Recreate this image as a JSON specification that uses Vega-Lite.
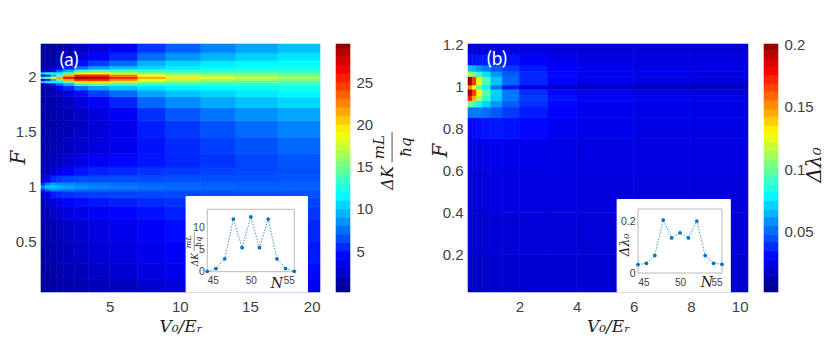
{"$schema":"https://vega.github.io/schema/vega-lite/v6.json","width":830,"height":356,"padding":0,"autosize":{"type":"none"},"background":"white","view":{"stroke":null},"config":{"view":{"stroke":null},"axis":{"grid":false,"labelFont":"Liberation Sans","labelColor":"#404040"}},
"datasets":{"a":[
{"x":0.1,"x2":0.4,"y":0.04,"y2":0.15,"v":0.6},{"x":0.4,"x2":0.8,"y":0.04,"y2":0.15,"v":0.6},{"x":0.8,"x2":1.2,"y":0.04,"y2":0.15,"v":0.8},{"x":1.2,"x2":1.7,"y":0.04,"y2":0.15,"v":0.9},{"x":1.7,"x2":2.5,"y":0.04,"y2":0.15,"v":1},{"x":2.5,"x2":3.5,"y":0.04,"y2":0.15,"v":1.2},{"x":3.5,"x2":5,"y":0.04,"y2":0.15,"v":1.5},{"x":5,"x2":7,"y":0.04,"y2":0.15,"v":1.8},{"x":7,"x2":9,"y":0.04,"y2":0.15,"v":2.2},{"x":9,"x2":11.5,"y":0.04,"y2":0.15,"v":2.6},{"x":11.5,"x2":14,"y":0.04,"y2":0.15,"v":3},{"x":14,"x2":17,"y":0.04,"y2":0.15,"v":3.2},{"x":17,"x2":20,"y":0.04,"y2":0.15,"v":3.4},
{"x":0.1,"x2":0.4,"y":0.15,"y2":0.3,"v":0.7},{"x":0.4,"x2":0.8,"y":0.15,"y2":0.3,"v":0.8},{"x":0.8,"x2":1.2,"y":0.15,"y2":0.3,"v":1},{"x":1.2,"x2":1.7,"y":0.15,"y2":0.3,"v":1.1},{"x":1.7,"x2":2.5,"y":0.15,"y2":0.3,"v":1.3},{"x":2.5,"x2":3.5,"y":0.15,"y2":0.3,"v":1.6},{"x":3.5,"x2":5,"y":0.15,"y2":0.3,"v":2},{"x":5,"x2":7,"y":0.15,"y2":0.3,"v":2.4},{"x":7,"x2":9,"y":0.15,"y2":0.3,"v":2.8},{"x":9,"x2":11.5,"y":0.15,"y2":0.3,"v":3.2},{"x":11.5,"x2":14,"y":0.15,"y2":0.3,"v":3.6},{"x":14,"x2":17,"y":0.15,"y2":0.3,"v":3.9},{"x":17,"x2":20,"y":0.15,"y2":0.3,"v":4.1},
{"x":0.1,"x2":0.4,"y":0.3,"y2":0.5,"v":0.8},{"x":0.4,"x2":0.8,"y":0.3,"y2":0.5,"v":1},{"x":0.8,"x2":1.2,"y":0.3,"y2":0.5,"v":1.2},{"x":1.2,"x2":1.7,"y":0.3,"y2":0.5,"v":1.4},{"x":1.7,"x2":2.5,"y":0.3,"y2":0.5,"v":1.6},{"x":2.5,"x2":3.5,"y":0.3,"y2":0.5,"v":2},{"x":3.5,"x2":5,"y":0.3,"y2":0.5,"v":2.4},{"x":5,"x2":7,"y":0.3,"y2":0.5,"v":2.8},{"x":7,"x2":9,"y":0.3,"y2":0.5,"v":3.2},{"x":9,"x2":11.5,"y":0.3,"y2":0.5,"v":3.6},{"x":11.5,"x2":14,"y":0.3,"y2":0.5,"v":4},{"x":14,"x2":17,"y":0.3,"y2":0.5,"v":4.3},{"x":17,"x2":20,"y":0.3,"y2":0.5,"v":4.5},
{"x":0.1,"x2":0.4,"y":0.5,"y2":0.7,"v":1},{"x":0.4,"x2":0.8,"y":0.5,"y2":0.7,"v":1.2},{"x":0.8,"x2":1.2,"y":0.5,"y2":0.7,"v":1.5},{"x":1.2,"x2":1.7,"y":0.5,"y2":0.7,"v":1.7},{"x":1.7,"x2":2.5,"y":0.5,"y2":0.7,"v":2},{"x":2.5,"x2":3.5,"y":0.5,"y2":0.7,"v":2.4},{"x":3.5,"x2":5,"y":0.5,"y2":0.7,"v":2.8},{"x":5,"x2":7,"y":0.5,"y2":0.7,"v":3.3},{"x":7,"x2":9,"y":0.5,"y2":0.7,"v":3.7},{"x":9,"x2":11.5,"y":0.5,"y2":0.7,"v":4.1},{"x":11.5,"x2":14,"y":0.5,"y2":0.7,"v":4.4},{"x":14,"x2":17,"y":0.5,"y2":0.7,"v":4.7},{"x":17,"x2":20,"y":0.5,"y2":0.7,"v":4.9},
{"x":0.1,"x2":0.4,"y":0.7,"y2":0.82,"v":1.2},{"x":0.4,"x2":0.8,"y":0.7,"y2":0.82,"v":1.6},{"x":0.8,"x2":1.2,"y":0.7,"y2":0.82,"v":2},{"x":1.2,"x2":1.7,"y":0.7,"y2":0.82,"v":2.3},{"x":1.7,"x2":2.5,"y":0.7,"y2":0.82,"v":2.7},{"x":2.5,"x2":3.5,"y":0.7,"y2":0.82,"v":3.1},{"x":3.5,"x2":5,"y":0.7,"y2":0.82,"v":3.5},{"x":5,"x2":7,"y":0.7,"y2":0.82,"v":3.9},{"x":7,"x2":9,"y":0.7,"y2":0.82,"v":4.3},{"x":9,"x2":11.5,"y":0.7,"y2":0.82,"v":4.7},{"x":11.5,"x2":14,"y":0.7,"y2":0.82,"v":5},{"x":14,"x2":17,"y":0.7,"y2":0.82,"v":5.2},{"x":17,"x2":20,"y":0.7,"y2":0.82,"v":5.4},
{"x":0.1,"x2":0.4,"y":0.82,"y2":0.9,"v":1.4},{"x":0.4,"x2":0.8,"y":0.82,"y2":0.9,"v":2},{"x":0.8,"x2":1.2,"y":0.82,"y2":0.9,"v":2.8},{"x":1.2,"x2":1.7,"y":0.82,"y2":0.9,"v":3.2},{"x":1.7,"x2":2.5,"y":0.82,"y2":0.9,"v":3.7},{"x":2.5,"x2":3.5,"y":0.82,"y2":0.9,"v":4.1},{"x":3.5,"x2":5,"y":0.82,"y2":0.9,"v":4.4},{"x":5,"x2":7,"y":0.82,"y2":0.9,"v":4.7},{"x":7,"x2":9,"y":0.82,"y2":0.9,"v":5},{"x":9,"x2":11.5,"y":0.82,"y2":0.9,"v":5.2},{"x":11.5,"x2":14,"y":0.82,"y2":0.9,"v":5.5},{"x":14,"x2":17,"y":0.82,"y2":0.9,"v":5.6},{"x":17,"x2":20,"y":0.82,"y2":0.9,"v":5.8},
{"x":0.1,"x2":0.4,"y":0.9,"y2":0.96,"v":1.8},{"x":0.4,"x2":0.8,"y":0.9,"y2":0.96,"v":3},{"x":0.8,"x2":1.2,"y":0.9,"y2":0.96,"v":4.5},{"x":1.2,"x2":1.7,"y":0.9,"y2":0.96,"v":5},{"x":1.7,"x2":2.5,"y":0.9,"y2":0.96,"v":5.2},{"x":2.5,"x2":3.5,"y":0.9,"y2":0.96,"v":5.4},{"x":3.5,"x2":5,"y":0.9,"y2":0.96,"v":5.6},{"x":5,"x2":7,"y":0.9,"y2":0.96,"v":5.7},{"x":7,"x2":9,"y":0.9,"y2":0.96,"v":5.8},{"x":9,"x2":11.5,"y":0.9,"y2":0.96,"v":5.9},{"x":11.5,"x2":14,"y":0.9,"y2":0.96,"v":6},{"x":14,"x2":17,"y":0.9,"y2":0.96,"v":6.1},{"x":17,"x2":20,"y":0.9,"y2":0.96,"v":6.2},
{"x":0.1,"x2":0.4,"y":0.96,"y2":0.985,"v":5},{"x":0.4,"x2":0.8,"y":0.96,"y2":0.985,"v":7},{"x":0.8,"x2":1.2,"y":0.96,"y2":0.985,"v":8},{"x":1.2,"x2":1.7,"y":0.96,"y2":0.985,"v":7.8},{"x":1.7,"x2":2.5,"y":0.96,"y2":0.985,"v":7.5},{"x":2.5,"x2":3.5,"y":0.96,"y2":0.985,"v":7.2},{"x":3.5,"x2":5,"y":0.96,"y2":0.985,"v":7},{"x":5,"x2":7,"y":0.96,"y2":0.985,"v":6.8},{"x":7,"x2":9,"y":0.96,"y2":0.985,"v":6.7},{"x":9,"x2":11.5,"y":0.96,"y2":0.985,"v":6.6},{"x":11.5,"x2":14,"y":0.96,"y2":0.985,"v":6.5},{"x":14,"x2":17,"y":0.96,"y2":0.985,"v":6.5},{"x":17,"x2":20,"y":0.96,"y2":0.985,"v":6.5},
{"x":0.1,"x2":0.4,"y":0.985,"y2":1.015,"v":8},{"x":0.4,"x2":0.8,"y":0.985,"y2":1.015,"v":9.5},{"x":0.8,"x2":1.2,"y":0.985,"y2":1.015,"v":9.5},{"x":1.2,"x2":1.7,"y":0.985,"y2":1.015,"v":9},{"x":1.7,"x2":2.5,"y":0.985,"y2":1.015,"v":8.5},{"x":2.5,"x2":3.5,"y":0.985,"y2":1.015,"v":8},{"x":3.5,"x2":5,"y":0.985,"y2":1.015,"v":7.6},{"x":5,"x2":7,"y":0.985,"y2":1.015,"v":7.3},{"x":7,"x2":9,"y":0.985,"y2":1.015,"v":7},{"x":9,"x2":11.5,"y":0.985,"y2":1.015,"v":6.8},{"x":11.5,"x2":14,"y":0.985,"y2":1.015,"v":6.7},{"x":14,"x2":17,"y":0.985,"y2":1.015,"v":6.6},{"x":17,"x2":20,"y":0.985,"y2":1.015,"v":6.6},
{"x":0.1,"x2":0.4,"y":1.015,"y2":1.04,"v":5},{"x":0.4,"x2":0.8,"y":1.015,"y2":1.04,"v":7.5},{"x":0.8,"x2":1.2,"y":1.015,"y2":1.04,"v":8.5},{"x":1.2,"x2":1.7,"y":1.015,"y2":1.04,"v":8},{"x":1.7,"x2":2.5,"y":1.015,"y2":1.04,"v":7.8},{"x":2.5,"x2":3.5,"y":1.015,"y2":1.04,"v":7.4},{"x":3.5,"x2":5,"y":1.015,"y2":1.04,"v":7.2},{"x":5,"x2":7,"y":1.015,"y2":1.04,"v":7},{"x":7,"x2":9,"y":1.015,"y2":1.04,"v":6.8},{"x":9,"x2":11.5,"y":1.015,"y2":1.04,"v":6.7},{"x":11.5,"x2":14,"y":1.015,"y2":1.04,"v":6.6},{"x":14,"x2":17,"y":1.015,"y2":1.04,"v":6.5},{"x":17,"x2":20,"y":1.015,"y2":1.04,"v":6.5},
{"x":0.1,"x2":0.4,"y":1.04,"y2":1.1,"v":1.8},{"x":0.4,"x2":0.8,"y":1.04,"y2":1.1,"v":3.2},{"x":0.8,"x2":1.2,"y":1.04,"y2":1.1,"v":5},{"x":1.2,"x2":1.7,"y":1.04,"y2":1.1,"v":5.5},{"x":1.7,"x2":2.5,"y":1.04,"y2":1.1,"v":5.8},{"x":2.5,"x2":3.5,"y":1.04,"y2":1.1,"v":6},{"x":3.5,"x2":5,"y":1.04,"y2":1.1,"v":6},{"x":5,"x2":7,"y":1.04,"y2":1.1,"v":6},{"x":7,"x2":9,"y":1.04,"y2":1.1,"v":6},{"x":9,"x2":11.5,"y":1.04,"y2":1.1,"v":6.1},{"x":11.5,"x2":14,"y":1.04,"y2":1.1,"v":6.2},{"x":14,"x2":17,"y":1.04,"y2":1.1,"v":6.2},{"x":17,"x2":20,"y":1.04,"y2":1.1,"v":6.3},
{"x":0.1,"x2":0.4,"y":1.1,"y2":1.18,"v":1.3},{"x":0.4,"x2":0.8,"y":1.1,"y2":1.18,"v":1.8},{"x":0.8,"x2":1.2,"y":1.1,"y2":1.18,"v":2.6},{"x":1.2,"x2":1.7,"y":1.1,"y2":1.18,"v":3.2},{"x":1.7,"x2":2.5,"y":1.1,"y2":1.18,"v":3.8},{"x":2.5,"x2":3.5,"y":1.1,"y2":1.18,"v":4.4},{"x":3.5,"x2":5,"y":1.1,"y2":1.18,"v":4.8},{"x":5,"x2":7,"y":1.1,"y2":1.18,"v":5},{"x":7,"x2":9,"y":1.1,"y2":1.18,"v":5.3},{"x":9,"x2":11.5,"y":1.1,"y2":1.18,"v":5.5},{"x":11.5,"x2":14,"y":1.1,"y2":1.18,"v":5.7},{"x":14,"x2":17,"y":1.1,"y2":1.18,"v":5.9},{"x":17,"x2":20,"y":1.1,"y2":1.18,"v":6.1},
{"x":0.1,"x2":0.4,"y":1.18,"y2":1.3,"v":1.1},{"x":0.4,"x2":0.8,"y":1.18,"y2":1.3,"v":1.3},{"x":0.8,"x2":1.2,"y":1.18,"y2":1.3,"v":1.6},{"x":1.2,"x2":1.7,"y":1.18,"y2":1.3,"v":1.9},{"x":1.7,"x2":2.5,"y":1.18,"y2":1.3,"v":2.4},{"x":2.5,"x2":3.5,"y":1.18,"y2":1.3,"v":2.9},{"x":3.5,"x2":5,"y":1.18,"y2":1.3,"v":3.4},{"x":5,"x2":7,"y":1.18,"y2":1.3,"v":3.9},{"x":7,"x2":9,"y":1.18,"y2":1.3,"v":4.4},{"x":9,"x2":11.5,"y":1.18,"y2":1.3,"v":4.9},{"x":11.5,"x2":14,"y":1.18,"y2":1.3,"v":5.3},{"x":14,"x2":17,"y":1.18,"y2":1.3,"v":5.8},{"x":17,"x2":20,"y":1.18,"y2":1.3,"v":6.3},
{"x":0.1,"x2":0.4,"y":1.3,"y2":1.45,"v":1},{"x":0.4,"x2":0.8,"y":1.3,"y2":1.45,"v":1.1},{"x":0.8,"x2":1.2,"y":1.3,"y2":1.45,"v":1.3},{"x":1.2,"x2":1.7,"y":1.3,"y2":1.45,"v":1.5},{"x":1.7,"x2":2.5,"y":1.3,"y2":1.45,"v":1.8},{"x":2.5,"x2":3.5,"y":1.3,"y2":1.45,"v":2.2},{"x":3.5,"x2":5,"y":1.3,"y2":1.45,"v":2.7},{"x":5,"x2":7,"y":1.3,"y2":1.45,"v":3.3},{"x":7,"x2":9,"y":1.3,"y2":1.45,"v":4.3},{"x":9,"x2":11.5,"y":1.3,"y2":1.45,"v":5},{"x":11.5,"x2":14,"y":1.3,"y2":1.45,"v":5.6},{"x":14,"x2":17,"y":1.3,"y2":1.45,"v":6.2},{"x":17,"x2":20,"y":1.3,"y2":1.45,"v":6.8},
{"x":0.1,"x2":0.4,"y":1.45,"y2":1.6,"v":0.9},{"x":0.4,"x2":0.8,"y":1.45,"y2":1.6,"v":1},{"x":0.8,"x2":1.2,"y":1.45,"y2":1.6,"v":1.2},{"x":1.2,"x2":1.7,"y":1.45,"y2":1.6,"v":1.4},{"x":1.7,"x2":2.5,"y":1.45,"y2":1.6,"v":1.6},{"x":2.5,"x2":3.5,"y":1.45,"y2":1.6,"v":2},{"x":3.5,"x2":5,"y":1.45,"y2":1.6,"v":2.5},{"x":5,"x2":7,"y":1.45,"y2":1.6,"v":3.2},{"x":7,"x2":9,"y":1.45,"y2":1.6,"v":4.6},{"x":9,"x2":11.5,"y":1.45,"y2":1.6,"v":5.4},{"x":11.5,"x2":14,"y":1.45,"y2":1.6,"v":6.2},{"x":14,"x2":17,"y":1.45,"y2":1.6,"v":6.9},{"x":17,"x2":20,"y":1.45,"y2":1.6,"v":7.6},
{"x":0.1,"x2":0.4,"y":1.6,"y2":1.72,"v":0.8},{"x":0.4,"x2":0.8,"y":1.6,"y2":1.72,"v":1},{"x":0.8,"x2":1.2,"y":1.6,"y2":1.72,"v":1.1},{"x":1.2,"x2":1.7,"y":1.6,"y2":1.72,"v":1.3},{"x":1.7,"x2":2.5,"y":1.6,"y2":1.72,"v":1.6},{"x":2.5,"x2":3.5,"y":1.6,"y2":1.72,"v":2},{"x":3.5,"x2":5,"y":1.6,"y2":1.72,"v":2.7},{"x":5,"x2":7,"y":1.6,"y2":1.72,"v":3.6},{"x":7,"x2":9,"y":1.6,"y2":1.72,"v":5.2},{"x":9,"x2":11.5,"y":1.6,"y2":1.72,"v":6.3},{"x":11.5,"x2":14,"y":1.6,"y2":1.72,"v":7.2},{"x":14,"x2":17,"y":1.6,"y2":1.72,"v":8},{"x":17,"x2":20,"y":1.6,"y2":1.72,"v":8.6},
{"x":0.1,"x2":0.4,"y":1.72,"y2":1.82,"v":0.8},{"x":0.4,"x2":0.8,"y":1.72,"y2":1.82,"v":1},{"x":0.8,"x2":1.2,"y":1.72,"y2":1.82,"v":1.1},{"x":1.2,"x2":1.7,"y":1.72,"y2":1.82,"v":1.4},{"x":1.7,"x2":2.5,"y":1.72,"y2":1.82,"v":1.8},{"x":2.5,"x2":3.5,"y":1.72,"y2":1.82,"v":2.6},{"x":3.5,"x2":5,"y":1.72,"y2":1.82,"v":3.6},{"x":5,"x2":7,"y":1.72,"y2":1.82,"v":4.8},{"x":7,"x2":9,"y":1.72,"y2":1.82,"v":6.8},{"x":9,"x2":11.5,"y":1.72,"y2":1.82,"v":7.9},{"x":11.5,"x2":14,"y":1.72,"y2":1.82,"v":8.7},{"x":14,"x2":17,"y":1.72,"y2":1.82,"v":9.4},{"x":17,"x2":20,"y":1.72,"y2":1.82,"v":10},
{"x":0.1,"x2":0.4,"y":1.82,"y2":1.88,"v":0.8},{"x":0.4,"x2":0.8,"y":1.82,"y2":1.88,"v":1},{"x":0.8,"x2":1.2,"y":1.82,"y2":1.88,"v":1.2},{"x":1.2,"x2":1.7,"y":1.82,"y2":1.88,"v":1.8},{"x":1.7,"x2":2.5,"y":1.82,"y2":1.88,"v":2.8},{"x":2.5,"x2":3.5,"y":1.82,"y2":1.88,"v":4.2},{"x":3.5,"x2":5,"y":1.82,"y2":1.88,"v":5.6},{"x":5,"x2":7,"y":1.82,"y2":1.88,"v":6.9},{"x":7,"x2":9,"y":1.82,"y2":1.88,"v":8.6},{"x":9,"x2":11.5,"y":1.82,"y2":1.88,"v":9.5},{"x":11.5,"x2":14,"y":1.82,"y2":1.88,"v":10},{"x":14,"x2":17,"y":1.82,"y2":1.88,"v":10.6},{"x":17,"x2":20,"y":1.82,"y2":1.88,"v":11},
{"x":0.1,"x2":0.4,"y":1.88,"y2":1.92,"v":0.9},{"x":0.4,"x2":0.8,"y":1.88,"y2":1.92,"v":1.2},{"x":0.8,"x2":1.2,"y":1.88,"y2":1.92,"v":2},{"x":1.2,"x2":1.7,"y":1.88,"y2":1.92,"v":3.2},{"x":1.7,"x2":2.5,"y":1.88,"y2":1.92,"v":5},{"x":2.5,"x2":3.5,"y":1.88,"y2":1.92,"v":7},{"x":3.5,"x2":5,"y":1.88,"y2":1.92,"v":8.5},{"x":5,"x2":7,"y":1.88,"y2":1.92,"v":9.5},{"x":7,"x2":9,"y":1.88,"y2":1.92,"v":10.2},{"x":9,"x2":11.5,"y":1.88,"y2":1.92,"v":10.8},{"x":11.5,"x2":14,"y":1.88,"y2":1.92,"v":11.2},{"x":14,"x2":17,"y":1.88,"y2":1.92,"v":11.6},{"x":17,"x2":20,"y":1.88,"y2":1.92,"v":11.8},
{"x":0.1,"x2":0.4,"y":1.92,"y2":1.945,"v":1.2},{"x":0.4,"x2":0.8,"y":1.92,"y2":1.945,"v":2},{"x":0.8,"x2":1.2,"y":1.92,"y2":1.945,"v":4},{"x":1.2,"x2":1.7,"y":1.92,"y2":1.945,"v":6.5},{"x":1.7,"x2":2.5,"y":1.92,"y2":1.945,"v":9},{"x":2.5,"x2":3.5,"y":1.92,"y2":1.945,"v":12.5},{"x":3.5,"x2":5,"y":1.92,"y2":1.945,"v":13.5},{"x":5,"x2":7,"y":1.92,"y2":1.945,"v":13},{"x":7,"x2":9,"y":1.92,"y2":1.945,"v":12.5},{"x":9,"x2":11.5,"y":1.92,"y2":1.945,"v":12.5},{"x":11.5,"x2":14,"y":1.92,"y2":1.945,"v":12.5},{"x":14,"x2":17,"y":1.92,"y2":1.945,"v":12.5},{"x":17,"x2":20,"y":1.92,"y2":1.945,"v":12.5},
{"x":0.1,"x2":0.4,"y":1.945,"y2":1.965,"v":10},{"x":0.4,"x2":0.8,"y":1.945,"y2":1.965,"v":12},{"x":0.8,"x2":1.2,"y":1.945,"y2":1.965,"v":11},{"x":1.2,"x2":1.7,"y":1.945,"y2":1.965,"v":11},{"x":1.7,"x2":2.5,"y":1.945,"y2":1.965,"v":14},{"x":2.5,"x2":3.5,"y":1.945,"y2":1.965,"v":19},{"x":3.5,"x2":5,"y":1.945,"y2":1.965,"v":19},{"x":5,"x2":7,"y":1.945,"y2":1.965,"v":17},{"x":7,"x2":9,"y":1.945,"y2":1.965,"v":15},{"x":9,"x2":11.5,"y":1.945,"y2":1.965,"v":14.5},{"x":11.5,"x2":14,"y":1.945,"y2":1.965,"v":14},{"x":14,"x2":17,"y":1.945,"y2":1.965,"v":14},{"x":17,"x2":20,"y":1.945,"y2":1.965,"v":13.5},
{"x":0.1,"x2":0.4,"y":1.965,"y2":1.985,"v":3},{"x":0.4,"x2":0.8,"y":1.965,"y2":1.985,"v":5},{"x":0.8,"x2":1.2,"y":1.965,"y2":1.985,"v":9},{"x":1.2,"x2":1.7,"y":1.965,"y2":1.985,"v":14},{"x":1.7,"x2":2.5,"y":1.965,"y2":1.985,"v":21},{"x":2.5,"x2":3.5,"y":1.965,"y2":1.985,"v":25},{"x":3.5,"x2":5,"y":1.965,"y2":1.985,"v":25},{"x":5,"x2":7,"y":1.965,"y2":1.985,"v":22},{"x":7,"x2":9,"y":1.965,"y2":1.985,"v":18.5},{"x":9,"x2":11.5,"y":1.965,"y2":1.985,"v":16.5},{"x":11.5,"x2":14,"y":1.965,"y2":1.985,"v":15.5},{"x":14,"x2":17,"y":1.965,"y2":1.985,"v":15},{"x":17,"x2":20,"y":1.965,"y2":1.985,"v":14.5},
{"x":0.1,"x2":0.4,"y":1.985,"y2":2.005,"v":12},{"x":0.4,"x2":0.8,"y":1.985,"y2":2.005,"v":15},{"x":0.8,"x2":1.2,"y":1.985,"y2":2.005,"v":17},{"x":1.2,"x2":1.7,"y":1.985,"y2":2.005,"v":21},{"x":1.7,"x2":2.5,"y":1.985,"y2":2.005,"v":26},{"x":2.5,"x2":3.5,"y":1.985,"y2":2.005,"v":29},{"x":3.5,"x2":5,"y":1.985,"y2":2.005,"v":28},{"x":5,"x2":7,"y":1.985,"y2":2.005,"v":25},{"x":7,"x2":9,"y":1.985,"y2":2.005,"v":21},{"x":9,"x2":11.5,"y":1.985,"y2":2.005,"v":19},{"x":11.5,"x2":14,"y":1.985,"y2":2.005,"v":18},{"x":14,"x2":17,"y":1.985,"y2":2.005,"v":17},{"x":17,"x2":20,"y":1.985,"y2":2.005,"v":16},
{"x":0.1,"x2":0.4,"y":2.005,"y2":2.025,"v":3},{"x":0.4,"x2":0.8,"y":2.005,"y2":2.025,"v":5},{"x":0.8,"x2":1.2,"y":2.005,"y2":2.025,"v":9},{"x":1.2,"x2":1.7,"y":2.005,"y2":2.025,"v":14},{"x":1.7,"x2":2.5,"y":2.005,"y2":2.025,"v":21},{"x":2.5,"x2":3.5,"y":2.005,"y2":2.025,"v":25},{"x":3.5,"x2":5,"y":2.005,"y2":2.025,"v":25},{"x":5,"x2":7,"y":2.005,"y2":2.025,"v":22},{"x":7,"x2":9,"y":2.005,"y2":2.025,"v":18.5},{"x":9,"x2":11.5,"y":2.005,"y2":2.025,"v":16.5},{"x":11.5,"x2":14,"y":2.005,"y2":2.025,"v":15.5},{"x":14,"x2":17,"y":2.005,"y2":2.025,"v":15},{"x":17,"x2":20,"y":2.005,"y2":2.025,"v":14.5},
{"x":0.1,"x2":0.4,"y":2.025,"y2":2.045,"v":10},{"x":0.4,"x2":0.8,"y":2.025,"y2":2.045,"v":12},{"x":0.8,"x2":1.2,"y":2.025,"y2":2.045,"v":11},{"x":1.2,"x2":1.7,"y":2.025,"y2":2.045,"v":11},{"x":1.7,"x2":2.5,"y":2.025,"y2":2.045,"v":14},{"x":2.5,"x2":3.5,"y":2.025,"y2":2.045,"v":19},{"x":3.5,"x2":5,"y":2.025,"y2":2.045,"v":19},{"x":5,"x2":7,"y":2.025,"y2":2.045,"v":17},{"x":7,"x2":9,"y":2.025,"y2":2.045,"v":15},{"x":9,"x2":11.5,"y":2.025,"y2":2.045,"v":14.5},{"x":11.5,"x2":14,"y":2.025,"y2":2.045,"v":14},{"x":14,"x2":17,"y":2.025,"y2":2.045,"v":14},{"x":17,"x2":20,"y":2.025,"y2":2.045,"v":13.5},
{"x":0.1,"x2":0.4,"y":2.045,"y2":2.07,"v":1.2},{"x":0.4,"x2":0.8,"y":2.045,"y2":2.07,"v":2},{"x":0.8,"x2":1.2,"y":2.045,"y2":2.07,"v":4},{"x":1.2,"x2":1.7,"y":2.045,"y2":2.07,"v":6.5},{"x":1.7,"x2":2.5,"y":2.045,"y2":2.07,"v":9},{"x":2.5,"x2":3.5,"y":2.045,"y2":2.07,"v":12.5},{"x":3.5,"x2":5,"y":2.045,"y2":2.07,"v":13.5},{"x":5,"x2":7,"y":2.045,"y2":2.07,"v":13},{"x":7,"x2":9,"y":2.045,"y2":2.07,"v":12.5},{"x":9,"x2":11.5,"y":2.045,"y2":2.07,"v":12.5},{"x":11.5,"x2":14,"y":2.045,"y2":2.07,"v":12.5},{"x":14,"x2":17,"y":2.045,"y2":2.07,"v":12.5},{"x":17,"x2":20,"y":2.045,"y2":2.07,"v":12.5},
{"x":0.1,"x2":0.4,"y":2.07,"y2":2.1,"v":0.9},{"x":0.4,"x2":0.8,"y":2.07,"y2":2.1,"v":1.2},{"x":0.8,"x2":1.2,"y":2.07,"y2":2.1,"v":2},{"x":1.2,"x2":1.7,"y":2.07,"y2":2.1,"v":3.2},{"x":1.7,"x2":2.5,"y":2.07,"y2":2.1,"v":5},{"x":2.5,"x2":3.5,"y":2.07,"y2":2.1,"v":7},{"x":3.5,"x2":5,"y":2.07,"y2":2.1,"v":8.5},{"x":5,"x2":7,"y":2.07,"y2":2.1,"v":9.5},{"x":7,"x2":9,"y":2.07,"y2":2.1,"v":10.2},{"x":9,"x2":11.5,"y":2.07,"y2":2.1,"v":10.8},{"x":11.5,"x2":14,"y":2.07,"y2":2.1,"v":11.2},{"x":14,"x2":17,"y":2.07,"y2":2.1,"v":11.6},{"x":17,"x2":20,"y":2.07,"y2":2.1,"v":11.8},
{"x":0.1,"x2":0.4,"y":2.1,"y2":2.15,"v":0.8},{"x":0.4,"x2":0.8,"y":2.1,"y2":2.15,"v":1},{"x":0.8,"x2":1.2,"y":2.1,"y2":2.15,"v":1.2},{"x":1.2,"x2":1.7,"y":2.1,"y2":2.15,"v":1.8},{"x":1.7,"x2":2.5,"y":2.1,"y2":2.15,"v":2.8},{"x":2.5,"x2":3.5,"y":2.1,"y2":2.15,"v":4.2},{"x":3.5,"x2":5,"y":2.1,"y2":2.15,"v":5.6},{"x":5,"x2":7,"y":2.1,"y2":2.15,"v":6.9},{"x":7,"x2":9,"y":2.1,"y2":2.15,"v":9},{"x":9,"x2":11.5,"y":2.1,"y2":2.15,"v":10},{"x":11.5,"x2":14,"y":2.1,"y2":2.15,"v":10.6},{"x":14,"x2":17,"y":2.1,"y2":2.15,"v":11},{"x":17,"x2":20,"y":2.1,"y2":2.15,"v":11.2},
{"x":0.1,"x2":0.4,"y":2.15,"y2":2.22,"v":0.7},{"x":0.4,"x2":0.8,"y":2.15,"y2":2.22,"v":0.8},{"x":0.8,"x2":1.2,"y":2.15,"y2":2.22,"v":1},{"x":1.2,"x2":1.7,"y":2.15,"y2":2.22,"v":1.4},{"x":1.7,"x2":2.5,"y":2.15,"y2":2.22,"v":1.9},{"x":2.5,"x2":3.5,"y":2.15,"y2":2.22,"v":2.8},{"x":3.5,"x2":5,"y":2.15,"y2":2.22,"v":3.8},{"x":5,"x2":7,"y":2.15,"y2":2.22,"v":5},{"x":7,"x2":9,"y":2.15,"y2":2.22,"v":7},{"x":9,"x2":11.5,"y":2.15,"y2":2.22,"v":8.2},{"x":11.5,"x2":14,"y":2.15,"y2":2.22,"v":9},{"x":14,"x2":17,"y":2.15,"y2":2.22,"v":9.8},{"x":17,"x2":20,"y":2.15,"y2":2.22,"v":10.4},
{"x":0.1,"x2":0.4,"y":2.22,"y2":2.3,"v":0.6},{"x":0.4,"x2":0.8,"y":2.22,"y2":2.3,"v":0.7},{"x":0.8,"x2":1.2,"y":2.22,"y2":2.3,"v":0.8},{"x":1.2,"x2":1.7,"y":2.22,"y2":2.3,"v":1},{"x":1.7,"x2":2.5,"y":2.22,"y2":2.3,"v":1.3},{"x":2.5,"x2":3.5,"y":2.22,"y2":2.3,"v":1.8},{"x":3.5,"x2":5,"y":2.22,"y2":2.3,"v":2.6},{"x":5,"x2":7,"y":2.22,"y2":2.3,"v":3.6},{"x":7,"x2":9,"y":2.22,"y2":2.3,"v":5.4},{"x":9,"x2":11.5,"y":2.22,"y2":2.3,"v":6.6},{"x":11.5,"x2":14,"y":2.22,"y2":2.3,"v":7.6},{"x":14,"x2":17,"y":2.22,"y2":2.3,"v":8.6},{"x":17,"x2":20,"y":2.22,"y2":2.3,"v":9.4}
],"b":[
{"x":0.2,"x2":0.35,"y":0.02,"y2":0.2,"v":0.014},{"x":0.35,"x2":0.5,"y":0.02,"y2":0.2,"v":0.014},{"x":0.5,"x2":0.7,"y":0.02,"y2":0.2,"v":0.015},{"x":0.7,"x2":1,"y":0.02,"y2":0.2,"v":0.016},{"x":1,"x2":1.4,"y":0.02,"y2":0.2,"v":0.016},{"x":1.4,"x2":2,"y":0.02,"y2":0.2,"v":0.016},{"x":2,"x2":3,"y":0.02,"y2":0.2,"v":0.017},{"x":3,"x2":4,"y":0.02,"y2":0.2,"v":0.017},{"x":4,"x2":6,"y":0.02,"y2":0.2,"v":0.017},{"x":6,"x2":8,"y":0.02,"y2":0.2,"v":0.017},{"x":8,"x2":10,"y":0.02,"y2":0.2,"v":0.016},
{"x":0.2,"x2":0.35,"y":0.2,"y2":0.4,"v":0.016},{"x":0.35,"x2":0.5,"y":0.2,"y2":0.4,"v":0.016},{"x":0.5,"x2":0.7,"y":0.2,"y2":0.4,"v":0.017},{"x":0.7,"x2":1,"y":0.2,"y2":0.4,"v":0.017},{"x":1,"x2":1.4,"y":0.2,"y2":0.4,"v":0.018},{"x":1.4,"x2":2,"y":0.2,"y2":0.4,"v":0.018},{"x":2,"x2":3,"y":0.2,"y2":0.4,"v":0.018},{"x":3,"x2":4,"y":0.2,"y2":0.4,"v":0.018},{"x":4,"x2":6,"y":0.2,"y2":0.4,"v":0.018},{"x":6,"x2":8,"y":0.2,"y2":0.4,"v":0.018},{"x":8,"x2":10,"y":0.2,"y2":0.4,"v":0.018},
{"x":0.2,"x2":0.35,"y":0.4,"y2":0.6,"v":0.018},{"x":0.35,"x2":0.5,"y":0.4,"y2":0.6,"v":0.018},{"x":0.5,"x2":0.7,"y":0.4,"y2":0.6,"v":0.018},{"x":0.7,"x2":1,"y":0.4,"y2":0.6,"v":0.019},{"x":1,"x2":1.4,"y":0.4,"y2":0.6,"v":0.02},{"x":1.4,"x2":2,"y":0.4,"y2":0.6,"v":0.02},{"x":2,"x2":3,"y":0.4,"y2":0.6,"v":0.02},{"x":3,"x2":4,"y":0.4,"y2":0.6,"v":0.02},{"x":4,"x2":6,"y":0.4,"y2":0.6,"v":0.019},{"x":6,"x2":8,"y":0.4,"y2":0.6,"v":0.019},{"x":8,"x2":10,"y":0.4,"y2":0.6,"v":0.019},
{"x":0.2,"x2":0.35,"y":0.6,"y2":0.75,"v":0.02},{"x":0.35,"x2":0.5,"y":0.6,"y2":0.75,"v":0.02},{"x":0.5,"x2":0.7,"y":0.6,"y2":0.75,"v":0.021},{"x":0.7,"x2":1,"y":0.6,"y2":0.75,"v":0.022},{"x":1,"x2":1.4,"y":0.6,"y2":0.75,"v":0.023},{"x":1.4,"x2":2,"y":0.6,"y2":0.75,"v":0.023},{"x":2,"x2":3,"y":0.6,"y2":0.75,"v":0.022},{"x":3,"x2":4,"y":0.6,"y2":0.75,"v":0.021},{"x":4,"x2":6,"y":0.6,"y2":0.75,"v":0.02},{"x":6,"x2":8,"y":0.6,"y2":0.75,"v":0.02},{"x":8,"x2":10,"y":0.6,"y2":0.75,"v":0.02},
{"x":0.2,"x2":0.35,"y":0.75,"y2":0.85,"v":0.027},{"x":0.35,"x2":0.5,"y":0.75,"y2":0.85,"v":0.028},{"x":0.5,"x2":0.7,"y":0.75,"y2":0.85,"v":0.029},{"x":0.7,"x2":1,"y":0.75,"y2":0.85,"v":0.03},{"x":1,"x2":1.4,"y":0.75,"y2":0.85,"v":0.031},{"x":1.4,"x2":2,"y":0.75,"y2":0.85,"v":0.03},{"x":2,"x2":3,"y":0.75,"y2":0.85,"v":0.028},{"x":3,"x2":4,"y":0.75,"y2":0.85,"v":0.024},{"x":4,"x2":6,"y":0.75,"y2":0.85,"v":0.022},{"x":6,"x2":8,"y":0.75,"y2":0.85,"v":0.021},{"x":8,"x2":10,"y":0.75,"y2":0.85,"v":0.021},
{"x":0.2,"x2":0.35,"y":0.85,"y2":0.9,"v":0.05},{"x":0.35,"x2":0.5,"y":0.85,"y2":0.9,"v":0.05},{"x":0.5,"x2":0.7,"y":0.85,"y2":0.9,"v":0.05},{"x":0.7,"x2":1,"y":0.85,"y2":0.9,"v":0.048},{"x":1,"x2":1.4,"y":0.85,"y2":0.9,"v":0.044},{"x":1.4,"x2":2,"y":0.85,"y2":0.9,"v":0.038},{"x":2,"x2":3,"y":0.85,"y2":0.9,"v":0.032},{"x":3,"x2":4,"y":0.85,"y2":0.9,"v":0.026},{"x":4,"x2":6,"y":0.85,"y2":0.9,"v":0.023},{"x":6,"x2":8,"y":0.85,"y2":0.9,"v":0.022},{"x":8,"x2":10,"y":0.85,"y2":0.9,"v":0.021},
{"x":0.2,"x2":0.35,"y":0.9,"y2":0.93,"v":0.1},{"x":0.35,"x2":0.5,"y":0.9,"y2":0.93,"v":0.09},{"x":0.5,"x2":0.7,"y":0.9,"y2":0.93,"v":0.08},{"x":0.7,"x2":1,"y":0.9,"y2":0.93,"v":0.068},{"x":1,"x2":1.4,"y":0.9,"y2":0.93,"v":0.056},{"x":1.4,"x2":2,"y":0.9,"y2":0.93,"v":0.045},{"x":2,"x2":3,"y":0.9,"y2":0.93,"v":0.036},{"x":3,"x2":4,"y":0.9,"y2":0.93,"v":0.028},{"x":4,"x2":6,"y":0.9,"y2":0.93,"v":0.024},{"x":6,"x2":8,"y":0.9,"y2":0.93,"v":0.022},{"x":8,"x2":10,"y":0.9,"y2":0.93,"v":0.021},
{"x":0.2,"x2":0.35,"y":0.93,"y2":0.955,"v":0.17},{"x":0.35,"x2":0.5,"y":0.93,"y2":0.955,"v":0.14},{"x":0.5,"x2":0.7,"y":0.93,"y2":0.955,"v":0.11},{"x":0.7,"x2":1,"y":0.93,"y2":0.955,"v":0.085},{"x":1,"x2":1.4,"y":0.93,"y2":0.955,"v":0.066},{"x":1.4,"x2":2,"y":0.93,"y2":0.955,"v":0.05},{"x":2,"x2":3,"y":0.93,"y2":0.955,"v":0.038},{"x":3,"x2":4,"y":0.93,"y2":0.955,"v":0.03},{"x":4,"x2":6,"y":0.93,"y2":0.955,"v":0.025},{"x":6,"x2":8,"y":0.93,"y2":0.955,"v":0.023},{"x":8,"x2":10,"y":0.93,"y2":0.955,"v":0.022},
{"x":0.2,"x2":0.35,"y":0.955,"y2":0.985,"v":0.195},{"x":0.35,"x2":0.5,"y":0.955,"y2":0.985,"v":0.165},{"x":0.5,"x2":0.7,"y":0.955,"y2":0.985,"v":0.125},{"x":0.7,"x2":1,"y":0.955,"y2":0.985,"v":0.092},{"x":1,"x2":1.4,"y":0.955,"y2":0.985,"v":0.068},{"x":1.4,"x2":2,"y":0.955,"y2":0.985,"v":0.05},{"x":2,"x2":3,"y":0.955,"y2":0.985,"v":0.036},{"x":3,"x2":4,"y":0.955,"y2":0.985,"v":0.028},{"x":4,"x2":6,"y":0.955,"y2":0.985,"v":0.023},{"x":6,"x2":8,"y":0.955,"y2":0.985,"v":0.02},{"x":8,"x2":10,"y":0.955,"y2":0.985,"v":0.019},
{"x":0.2,"x2":0.35,"y":0.985,"y2":1.005,"v":0.15},{"x":0.35,"x2":0.5,"y":0.985,"y2":1.005,"v":0.125},{"x":0.5,"x2":0.7,"y":0.985,"y2":1.005,"v":0.1},{"x":0.7,"x2":1,"y":0.985,"y2":1.005,"v":0.075},{"x":1,"x2":1.4,"y":0.985,"y2":1.005,"v":0.05},{"x":1.4,"x2":2,"y":0.985,"y2":1.005,"v":0.032},{"x":2,"x2":3,"y":0.985,"y2":1.005,"v":0.02},{"x":3,"x2":4,"y":0.985,"y2":1.005,"v":0.015},{"x":4,"x2":6,"y":0.985,"y2":1.005,"v":0.013},{"x":6,"x2":8,"y":0.985,"y2":1.005,"v":0.012},{"x":8,"x2":10,"y":0.985,"y2":1.005,"v":0.011},
{"x":0.2,"x2":0.35,"y":1.005,"y2":1.045,"v":0.195},{"x":0.35,"x2":0.5,"y":1.005,"y2":1.045,"v":0.165},{"x":0.5,"x2":0.7,"y":1.005,"y2":1.045,"v":0.12},{"x":0.7,"x2":1,"y":1.005,"y2":1.045,"v":0.09},{"x":1,"x2":1.4,"y":1.005,"y2":1.045,"v":0.065},{"x":1.4,"x2":2,"y":1.005,"y2":1.045,"v":0.047},{"x":2,"x2":3,"y":1.005,"y2":1.045,"v":0.034},{"x":3,"x2":4,"y":1.005,"y2":1.045,"v":0.027},{"x":4,"x2":6,"y":1.005,"y2":1.045,"v":0.022},{"x":6,"x2":8,"y":1.005,"y2":1.045,"v":0.02},{"x":8,"x2":10,"y":1.005,"y2":1.045,"v":0.019},
{"x":0.2,"x2":0.35,"y":1.045,"y2":1.07,"v":0.11},{"x":0.35,"x2":0.5,"y":1.045,"y2":1.07,"v":0.1},{"x":0.5,"x2":0.7,"y":1.045,"y2":1.07,"v":0.085},{"x":0.7,"x2":1,"y":1.045,"y2":1.07,"v":0.07},{"x":1,"x2":1.4,"y":1.045,"y2":1.07,"v":0.056},{"x":1.4,"x2":2,"y":1.045,"y2":1.07,"v":0.044},{"x":2,"x2":3,"y":1.045,"y2":1.07,"v":0.034},{"x":3,"x2":4,"y":1.045,"y2":1.07,"v":0.028},{"x":4,"x2":6,"y":1.045,"y2":1.07,"v":0.024},{"x":6,"x2":8,"y":1.045,"y2":1.07,"v":0.022},{"x":8,"x2":10,"y":1.045,"y2":1.07,"v":0.021},
{"x":0.2,"x2":0.35,"y":1.07,"y2":1.1,"v":0.065},{"x":0.35,"x2":0.5,"y":1.07,"y2":1.1,"v":0.062},{"x":0.5,"x2":0.7,"y":1.07,"y2":1.1,"v":0.056},{"x":0.7,"x2":1,"y":1.07,"y2":1.1,"v":0.05},{"x":1,"x2":1.4,"y":1.07,"y2":1.1,"v":0.044},{"x":1.4,"x2":2,"y":1.07,"y2":1.1,"v":0.038},{"x":2,"x2":3,"y":1.07,"y2":1.1,"v":0.031},{"x":3,"x2":4,"y":1.07,"y2":1.1,"v":0.026},{"x":4,"x2":6,"y":1.07,"y2":1.1,"v":0.023},{"x":6,"x2":8,"y":1.07,"y2":1.1,"v":0.021},{"x":8,"x2":10,"y":1.07,"y2":1.1,"v":0.021},
{"x":0.2,"x2":0.35,"y":1.1,"y2":1.15,"v":0.03},{"x":0.35,"x2":0.5,"y":1.1,"y2":1.15,"v":0.03},{"x":0.5,"x2":0.7,"y":1.1,"y2":1.15,"v":0.031},{"x":0.7,"x2":1,"y":1.1,"y2":1.15,"v":0.032},{"x":1,"x2":1.4,"y":1.1,"y2":1.15,"v":0.032},{"x":1.4,"x2":2,"y":1.1,"y2":1.15,"v":0.03},{"x":2,"x2":3,"y":1.1,"y2":1.15,"v":0.026},{"x":3,"x2":4,"y":1.1,"y2":1.15,"v":0.023},{"x":4,"x2":6,"y":1.1,"y2":1.15,"v":0.021},{"x":6,"x2":8,"y":1.1,"y2":1.15,"v":0.02},{"x":8,"x2":10,"y":1.1,"y2":1.15,"v":0.02},
{"x":0.2,"x2":0.35,"y":1.15,"y2":1.2,"v":0.018},{"x":0.35,"x2":0.5,"y":1.15,"y2":1.2,"v":0.018},{"x":0.5,"x2":0.7,"y":1.15,"y2":1.2,"v":0.019},{"x":0.7,"x2":1,"y":1.15,"y2":1.2,"v":0.02},{"x":1,"x2":1.4,"y":1.15,"y2":1.2,"v":0.021},{"x":1.4,"x2":2,"y":1.15,"y2":1.2,"v":0.021},{"x":2,"x2":3,"y":1.15,"y2":1.2,"v":0.02},{"x":3,"x2":4,"y":1.15,"y2":1.2,"v":0.019},{"x":4,"x2":6,"y":1.15,"y2":1.2,"v":0.018},{"x":6,"x2":8,"y":1.15,"y2":1.2,"v":0.018},{"x":8,"x2":10,"y":1.15,"y2":1.2,"v":0.018}
],"ia":[{"N":45,"v":0.1},{"N":46,"v":0.7},{"N":47,"v":2.9},{"N":48,"v":11.8},{"N":49,"v":5.4},{"N":50,"v":12.3},{"N":51,"v":5.4},{"N":52,"v":11.8},{"N":53,"v":2.9},{"N":54,"v":0.7},{"N":55,"v":0.1}],
"ib":[{"N":45,"v":0.033},{"N":46,"v":0.038},{"N":47,"v":0.068},{"N":48,"v":0.207},{"N":49,"v":0.137},{"N":50,"v":0.157},{"N":51,"v":0.137},{"N":52,"v":0.203},{"N":53,"v":0.068},{"N":54,"v":0.038},{"N":55,"v":0.034}],
"ca":[{"v":0.15,"v2":1},{"v":1,"v2":2},{"v":2,"v2":3},{"v":3,"v2":4},{"v":4,"v2":5},{"v":5,"v2":6},{"v":6,"v2":7},{"v":7,"v2":8},{"v":8,"v2":9},{"v":9,"v2":10},{"v":10,"v2":11},{"v":11,"v2":12},{"v":12,"v2":13},{"v":13,"v2":14},{"v":14,"v2":15},{"v":15,"v2":16},{"v":16,"v2":17},{"v":17,"v2":18},{"v":18,"v2":19},{"v":19,"v2":20},{"v":20,"v2":21},{"v":21,"v2":22},{"v":22,"v2":23},{"v":23,"v2":24},{"v":24,"v2":25},{"v":25,"v2":26},{"v":26,"v2":27},{"v":27,"v2":28},{"v":28,"v2":29},{"v":29,"v2":29.5}],
"cb":[{"v":0.002,"v2":0.008},{"v":0.008,"v2":0.015},{"v":0.015,"v2":0.022},{"v":0.022,"v2":0.028},{"v":0.028,"v2":0.035},{"v":0.035,"v2":0.042},{"v":0.042,"v2":0.048},{"v":0.048,"v2":0.055},{"v":0.055,"v2":0.062},{"v":0.062,"v2":0.068},{"v":0.068,"v2":0.075},{"v":0.075,"v2":0.082},{"v":0.082,"v2":0.088},{"v":0.088,"v2":0.095},{"v":0.095,"v2":0.102},{"v":0.102,"v2":0.108},{"v":0.108,"v2":0.115},{"v":0.115,"v2":0.122},{"v":0.122,"v2":0.128},{"v":0.128,"v2":0.135},{"v":0.135,"v2":0.142},{"v":0.142,"v2":0.148},{"v":0.148,"v2":0.155},{"v":0.155,"v2":0.162},{"v":0.162,"v2":0.168},{"v":0.168,"v2":0.175},{"v":0.175,"v2":0.182},{"v":0.182,"v2":0.188},{"v":0.188,"v2":0.195},{"v":0.195,"v2":0.2}]},
"resolve":{"scale":{"x":"independent","y":"independent","color":"independent","stroke":"independent"}},
"layer":[
{"layer":[
{"data":{"name":"a"},"mark":{"type":"rect","strokeWidth":0.6},"encoding":{
"x":{"field":"x","type":"quantitative","scale":{"domain":[0.1,20],"range":[41,320],"nice":false,"zero":false},"axis":{"orient":"bottom","offset":-64,"values":[5,10,15,20],"format":"d","domain":false,"ticks":false,"labelFontSize":15,"labelPadding":7,"title":"V₀/Eᵣ","titleFont":"DejaVu Serif","titleFontStyle":"italic","titleFontWeight":"normal","titleFontSize":17,"titleColor":"#222","titlePadding":4}},
"x2":{"field":"x2"},
"y":{"field":"y","type":"quantitative","scale":{"domain":[0.04,2.3],"range":[292,44],"nice":false,"zero":false},"axis":{"orient":"left","offset":-41,"values":[0.5,1,1.5,2],"labelExpr":"datum.value == 1 ? '1' : datum.value == 2 ? '2' : datum.label","domain":false,"ticks":false,"labelFontSize":15,"labelPadding":5,"title":"F","titleFont":"DejaVu Serif","titleFontStyle":"italic","titleFontWeight":"normal","titleFontSize":20,"titleColor":"#222","titleX":-13,"titleY":157}},
"y2":{"field":"y2"},
"color":{"field":"v","type":"quantitative","scale":{"domain":[0.15,29.5],"range":["#00008F","#0000FF","#007FFF","#00FFFF","#7FFF7F","#FFFF00","#FF7F00","#FF0000","#7F0000"],"interpolate":"rgb"},"legend":null},
"stroke":{"field":"v","type":"quantitative","scale":{"domain":[0.15,29.5],"range":["#00008F","#0000FF","#007FFF","#00FFFF","#7FFF7F","#FFFF00","#FF7F00","#FF0000","#7F0000"],"interpolate":"rgb"},"legend":null}}},
{"data":{"values":[{}]},"mark":{"type":"rect","fill":"white","stroke":"white"},"encoding":{"x":{"datum":10.45,"type":"quantitative"},"x2":{"datum":19.1},"y":{"datum":0.04,"type":"quantitative"},"y2":{"datum":0.91}}},
{"data":{"values":[{}]},"mark":{"type":"text","text":"(a)","font":"Lato","fontSize":19,"color":"white"},"encoding":{"x":{"datum":2.1,"type":"quantitative"},"y":{"datum":2.155,"type":"quantitative"}}},
{"data":{"values":[{}]},"mark":{"type":"text","text":"ΔK","font":"DejaVu Serif","fontStyle":"italic","fontSize":16,"angle":270,"color":"#222"},"encoding":{"x":{"datum":24.85,"type":"quantitative"},"y":{"datum":1.08,"type":"quantitative"}}},
{"data":{"values":[{}]},"mark":{"type":"text","text":"mL","font":"DejaVu Serif","fontStyle":"italic","fontSize":15,"angle":270,"color":"#222"},"encoding":{"x":{"datum":24.2,"type":"quantitative"},"y":{"datum":1.36,"type":"quantitative"}}},
{"data":{"values":[{}]},"mark":{"type":"text","text":"ħq","font":"DejaVu Serif","fontStyle":"italic","fontSize":15,"angle":270,"color":"#222"},"encoding":{"x":{"datum":26.1,"type":"quantitative"},"y":{"datum":1.36,"type":"quantitative"}}},
{"data":{"values":[{}]},"mark":{"type":"rule","color":"#222","strokeWidth":0.8},"encoding":{"x":{"datum":25.14,"type":"quantitative"},"y":{"datum":1.5,"type":"quantitative"},"y2":{"datum":1.22}}}
]},
{"data":{"name":"ca"},"mark":{"type":"rect","strokeWidth":0.6},"encoding":{
"x":{"datum":0,"type":"quantitative","scale":{"domain":[0,1],"range":[336,350],"nice":false,"zero":false},"axis":null},"x2":{"datum":1},
"y":{"field":"v","type":"quantitative","scale":{"domain":[0.15,29.5],"range":[292,44],"nice":false,"zero":false},"axis":{"orient":"right","offset":-480,"values":[5,10,15,20,25],"format":"d","domain":false,"ticks":false,"labelFontSize":15,"labelPadding":6,"title":null}},"y2":{"field":"v2"},
"color":{"field":"v","type":"quantitative","scale":{"domain":[0.15,29.5],"range":["#00008F","#0000FF","#007FFF","#00FFFF","#7FFF7F","#FFFF00","#FF7F00","#FF0000","#7F0000"],"interpolate":"rgb"},"legend":null},
"stroke":{"field":"v","type":"quantitative","scale":{"domain":[0.15,29.5],"range":["#00008F","#0000FF","#007FFF","#00FFFF","#7FFF7F","#FFFF00","#FF7F00","#FF0000","#7F0000"],"interpolate":"rgb"},"legend":null}}},
{"layer":[
{"data":{"values":[{}]},"mark":{"type":"rect","fill":null,"stroke":"#b8b8b8","strokeWidth":1},"encoding":{"x":{"datum":45,"type":"quantitative","scale":{"domain":[45,55],"range":[207.3,294.3],"nice":false,"zero":false},"axis":{"orient":"bottom","offset":-84.3,"zindex":1,"values":[45,50,55],"format":"d","domain":false,"tickSize":0,"labelFontSize":10,"labelPadding":4,"title":null}},"x2":{"datum":55},"y":{"datum":0,"type":"quantitative","scale":{"domain":[0,14],"range":[271.7,209.3],"nice":false,"zero":false},"axis":{"orient":"left","offset":-207.3,"zindex":1,"values":[0,5,10],"format":"d","domain":false,"tickSize":0,"labelFontSize":10.5,"labelPadding":3,"title":null}},"y2":{"datum":14}}},
{"data":{"name":"ia"},"mark":{"type":"line","color":"#0072BD","strokeWidth":1,"strokeDash":[1.5,1.5],"opacity":0.75},"encoding":{"x":{"field":"N","type":"quantitative"},"y":{"field":"v","type":"quantitative"}}},
{"data":{"name":"ia"},"mark":{"type":"point","filled":true,"color":"#0072BD","size":14,"opacity":1},"encoding":{"x":{"field":"N","type":"quantitative"},"y":{"field":"v","type":"quantitative"}}},
{"data":{"values":[{}]},"mark":{"type":"text","text":"N","font":"DejaVu Serif","fontStyle":"italic","fontSize":14,"color":"#222"},"encoding":{"x":{"datum":53,"type":"quantitative"},"y":{"datum":-2.76,"type":"quantitative"}}},
{"data":{"values":[{}]},"mark":{"type":"text","text":"ΔK","font":"DejaVu Serif","fontStyle":"italic","fontSize":9,"angle":270,"color":"#222"},"encoding":{"x":{"datum":43.55,"type":"quantitative"},"y":{"datum":2.7,"type":"quantitative"}}},
{"data":{"values":[{}]},"mark":{"type":"text","text":"mL","font":"DejaVu Serif","fontStyle":"italic","fontSize":8,"angle":270,"color":"#222"},"encoding":{"x":{"datum":42.95,"type":"quantitative"},"y":{"datum":6.7,"type":"quantitative"}}},
{"data":{"values":[{}]},"mark":{"type":"text","text":"ħq","font":"DejaVu Serif","fontStyle":"italic","fontSize":8,"angle":270,"color":"#222"},"encoding":{"x":{"datum":44,"type":"quantitative"},"y":{"datum":6.7,"type":"quantitative"}}},
{"data":{"values":[{}]},"mark":{"type":"rule","color":"#222","strokeWidth":0.5},"encoding":{"x":{"datum":43.5,"type":"quantitative"},"y":{"datum":4.6,"type":"quantitative"},"y2":{"datum":8.9}}}
]},
{"layer":[
{"data":{"name":"b"},"mark":{"type":"rect","strokeWidth":0.6},"encoding":{
"x":{"field":"x","type":"quantitative","scale":{"domain":[0.2,10],"range":[468,748],"nice":false,"zero":false},"axis":{"orient":"bottom","offset":-64,"values":[2,4,6,8,10],"format":"d","domain":false,"ticks":false,"labelFontSize":15,"labelPadding":7,"title":"V₀/Eᵣ","titleFont":"DejaVu Serif","titleFontStyle":"italic","titleFontWeight":"normal","titleFontSize":17,"titleColor":"#222","titlePadding":4}},
"x2":{"field":"x2"},
"y":{"field":"y","type":"quantitative","scale":{"domain":[0.02,1.2],"range":[292,44],"nice":false,"zero":false},"axis":{"orient":"left","offset":-468,"values":[0.2,0.4,0.6,0.8,1,1.2],"labelExpr":"datum.value == 1 ? '1' : datum.label","domain":false,"ticks":false,"labelFontSize":15,"labelPadding":5,"title":"F","titleFont":"DejaVu Serif","titleFontStyle":"italic","titleFontWeight":"normal","titleFontSize":20,"titleColor":"#222","titleX":-18,"titleY":150}},
"y2":{"field":"y2"},
"color":{"field":"v","type":"quantitative","scale":{"domain":[0.002,0.2],"range":["#00008F","#0000FF","#007FFF","#00FFFF","#7FFF7F","#FFFF00","#FF7F00","#FF0000","#7F0000"],"interpolate":"rgb"},"legend":null},
"stroke":{"field":"v","type":"quantitative","scale":{"domain":[0.002,0.2],"range":["#00008F","#0000FF","#007FFF","#00FFFF","#7FFF7F","#FFFF00","#FF7F00","#FF0000","#7F0000"],"interpolate":"rgb"},"legend":null}}},
{"data":{"values":[{}]},"mark":{"type":"rect","fill":"white","stroke":"white"},"encoding":{"x":{"datum":5.42,"type":"quantitative"},"x2":{"datum":9.38},"y":{"datum":0.02,"type":"quantitative"},"y2":{"datum":0.46}}},
{"data":{"values":[{}]},"mark":{"type":"text","text":"(b)","font":"Lato","fontSize":19,"color":"white"},"encoding":{"x":{"datum":1.21,"type":"quantitative"},"y":{"datum":1.128,"type":"quantitative"}}},
{"data":{"values":[{}]},"mark":{"type":"text","text":"Δλ₀","font":"DejaVu Serif","fontStyle":"italic","fontSize":20,"angle":270,"color":"#222"},"encoding":{"x":{"datum":12.33,"type":"quantitative"},"y":{"datum":0.625,"type":"quantitative"}}}
]},
{"data":{"name":"cb"},"mark":{"type":"rect","strokeWidth":0.6},"encoding":{
"x":{"datum":0,"type":"quantitative","scale":{"domain":[0,1],"range":[764,778],"nice":false,"zero":false},"axis":null},"x2":{"datum":1},
"y":{"field":"v","type":"quantitative","scale":{"domain":[0.002,0.2],"range":[292,44],"nice":false,"zero":false},"axis":{"orient":"right","offset":-52,"values":[0.05,0.1,0.15,0.2],"labelExpr":"datum.value == 0.1 ? '0.1' : datum.value == 0.2 ? '0.2' : format(datum.value, '.2f')","domain":false,"ticks":false,"labelFontSize":15,"labelPadding":6,"labelBound":false,"title":null}},"y2":{"field":"v2"},
"color":{"field":"v","type":"quantitative","scale":{"domain":[0.002,0.2],"range":["#00008F","#0000FF","#007FFF","#00FFFF","#7FFF7F","#FFFF00","#FF7F00","#FF0000","#7F0000"],"interpolate":"rgb"},"legend":null},
"stroke":{"field":"v","type":"quantitative","scale":{"domain":[0.002,0.2],"range":["#00008F","#0000FF","#007FFF","#00FFFF","#7FFF7F","#FFFF00","#FF7F00","#FF0000","#7F0000"],"interpolate":"rgb"},"legend":null}}},
{"layer":[
{"data":{"values":[{}]},"mark":{"type":"rect","fill":null,"stroke":"#b8b8b8","strokeWidth":1},"encoding":{"x":{"datum":45,"type":"quantitative","scale":{"domain":[45,55],"range":[638,722],"nice":false,"zero":false},"axis":{"orient":"bottom","offset":-83,"zindex":1,"values":[45,50,55],"format":"d","domain":false,"tickSize":0,"labelFontSize":10,"labelPadding":4,"title":null}},"x2":{"datum":55},"y":{"datum":0,"type":"quantitative","scale":{"domain":[0,0.25],"range":[273,209],"nice":false,"zero":false},"axis":{"orient":"left","offset":-638,"zindex":1,"values":[0,0.2],"labelExpr":"datum.value == 0 ? '0' : '0.2'","domain":false,"tickSize":0,"labelFontSize":10.5,"labelPadding":3,"title":null}},"y2":{"datum":0.25}}},
{"data":{"name":"ib"},"mark":{"type":"line","color":"#0072BD","strokeWidth":1,"strokeDash":[1.5,1.5],"opacity":0.75},"encoding":{"x":{"field":"N","type":"quantitative"},"y":{"field":"v","type":"quantitative"}}},
{"data":{"name":"ib"},"mark":{"type":"point","filled":true,"color":"#0072BD","size":14,"opacity":1},"encoding":{"x":{"field":"N","type":"quantitative"},"y":{"field":"v","type":"quantitative"}}},
{"data":{"values":[{}]},"mark":{"type":"text","text":"N","font":"DejaVu Serif","fontStyle":"italic","fontSize":14,"color":"#222"},"encoding":{"x":{"datum":53.2,"type":"quantitative"},"y":{"datum":-0.04,"type":"quantitative"}}},
{"data":{"values":[{}]},"mark":{"type":"text","text":"Δλ₀","font":"DejaVu Serif","fontStyle":"italic","fontSize":13,"angle":270,"color":"#222"},"encoding":{"x":{"datum":43.45,"type":"quantitative"},"y":{"datum":0.11,"type":"quantitative"}}}
]}
]}
